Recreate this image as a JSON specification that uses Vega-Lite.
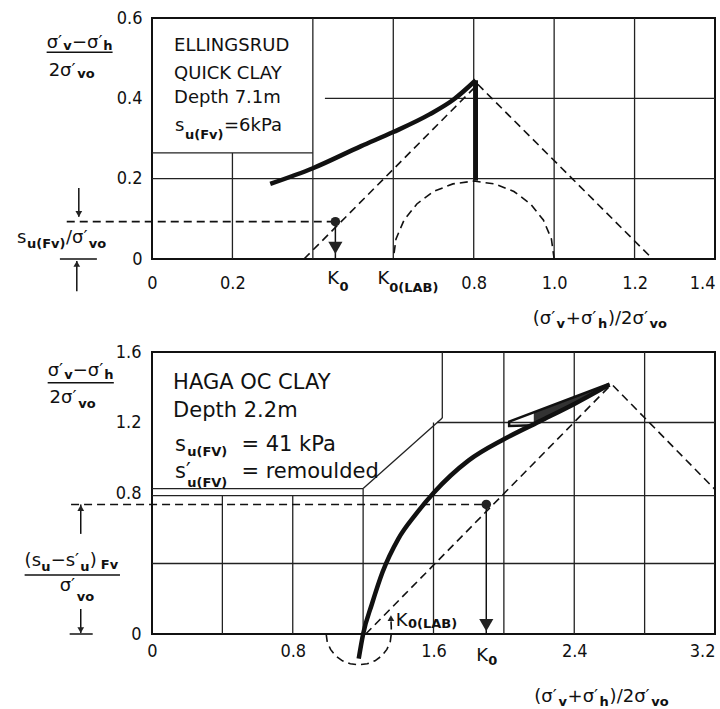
{
  "$schema": "https://vega.github.io/schema/vega-lite/v6.json",
  "padding": {"left": 15, "top": 8, "right": 0, "bottom": 0},
  "background": "white",
  "config": {
    "view": {"stroke": "#111", "strokeWidth": 2},
    "axis": {"labelFont": "DejaVu Sans Condensed", "labelColor": "#111", "labelFontSize": 18},
    "text": {"font": "DejaVu Sans", "color": "#111", "align": "left", "baseline": "alphabetic"}
  },
  "datasets": {
    "grid_top": [
      {"x": 0.2, "x2": 0.2, "y": 0, "y2": 0.264},
      {"x": 0.4, "x2": 0.4, "y": 0, "y2": 0.6},
      {"x": 0.6, "x2": 0.6, "y": 0, "y2": 0.6},
      {"x": 0.8, "x2": 0.8, "y": 0, "y2": 0.6},
      {"x": 1.0, "x2": 1.0, "y": 0, "y2": 0.6},
      {"x": 1.2, "x2": 1.2, "y": 0, "y2": 0.6},
      {"x": 0, "x2": 0.4, "y": 0.264, "y2": 0.264},
      {"x": 0, "x2": 1.4, "y": 0.2, "y2": 0.2},
      {"x": 0.43, "x2": 1.4, "y": 0.4, "y2": 0.4}
    ],
    "solid_top": [
      {"id": "curve", "order": 1, "x": 0.294, "y": 0.187},
      {"id": "curve", "order": 2, "x": 0.40, "y": 0.226},
      {"id": "curve", "order": 3, "x": 0.52, "y": 0.281},
      {"id": "curve", "order": 4, "x": 0.60, "y": 0.316},
      {"id": "curve", "order": 5, "x": 0.69, "y": 0.36},
      {"id": "curve", "order": 6, "x": 0.75, "y": 0.397},
      {"id": "curve", "order": 7, "x": 0.805, "y": 0.445}
    ],
    "stem_top": [
      {"x": 0.805, "x2": 0.805, "y": 0.445, "y2": 0.195}
    ],
    "dashed_top": [
      {"id": "k0", "order": 1, "x": 0.378, "y": 0},
      {"id": "k0", "order": 2, "x": 0.81, "y": 0.435},
      {"id": "fail", "order": 1, "x": 0.81, "y": 0.435},
      {"id": "fail", "order": 2, "x": 1.245, "y": 0},
      {"id": "su", "order": 1, "x": -0.212, "y": 0.093},
      {"id": "su", "order": 2, "x": 0.456, "y": 0.093},
      {"id": "mohr", "order": 1, "x": 1.0, "y": 0},
      {"id": "mohr", "order": 2, "x": 0.9932, "y": 0.05},
      {"id": "mohr", "order": 3, "x": 0.9732, "y": 0.097},
      {"id": "mohr", "order": 4, "x": 0.9414, "y": 0.137},
      {"id": "mohr", "order": 5, "x": 0.9, "y": 0.168},
      {"id": "mohr", "order": 6, "x": 0.8518, "y": 0.187},
      {"id": "mohr", "order": 7, "x": 0.8, "y": 0.194},
      {"id": "mohr", "order": 8, "x": 0.7482, "y": 0.187},
      {"id": "mohr", "order": 9, "x": 0.7, "y": 0.168},
      {"id": "mohr", "order": 10, "x": 0.6586, "y": 0.137},
      {"id": "mohr", "order": 11, "x": 0.6268, "y": 0.097},
      {"id": "mohr", "order": 12, "x": 0.6068, "y": 0.05},
      {"id": "mohr", "order": 13, "x": 0.6, "y": 0}
    ],
    "thin_top": [
      {"x": 0.456, "x2": 0.456, "y": 0.093, "y2": 0.0},
      {"x": -0.182, "x2": -0.182, "y": 0.177, "y2": 0.105},
      {"x": -0.187, "x2": -0.187, "y": -0.08, "y2": -0.005},
      {"x": -0.229, "x2": -0.137, "y": 0, "y2": 0},
      {"x": -0.262, "x2": -0.098, "y": 0.515, "y2": 0.515}
    ],
    "heads_top": [
      {"x": 0.456, "y": 0.028, "dir": "down", "kind": "main"},
      {"x": -0.182, "y": 0.112, "dir": "down", "kind": "note"},
      {"x": -0.187, "y": -0.012, "dir": "up", "kind": "note"}
    ],
    "dots_top": [{"x": 0.456, "y": 0.093}],
    "text_top": [
      {"t": "ELLINGSRUD", "x": 0.055, "y": 0.518, "g": "box"},
      {"t": "QUICK CLAY", "x": 0.055, "y": 0.448, "g": "box"},
      {"t": "Depth 7.1m", "x": 0.055, "y": 0.388, "g": "box"},
      {"t": "s", "x": 0.057, "y": 0.319, "g": "box"},
      {"t": "=6kPa", "x": 0.179, "y": 0.319, "g": "box"},
      {"t": "σ′", "x": -0.262, "y": 0.525, "g": "main"},
      {"t": "−σ′", "x": -0.199, "y": 0.525, "g": "main"},
      {"t": "2σ′", "x": -0.257, "y": 0.456, "g": "main"},
      {"t": "s", "x": -0.336, "y": 0.04, "g": "main"},
      {"t": "/σ′", "x": -0.214, "y": 0.04, "g": "main"},
      {"t": "K", "x": 0.436, "y": -0.062, "g": "main"},
      {"t": "K", "x": 0.561, "y": -0.062, "g": "main"},
      {"t": "(σ′", "x": 0.947, "y": -0.162, "g": "main"},
      {"t": "+σ′", "x": 1.029, "y": -0.162, "g": "main"},
      {"t": ")/2σ′", "x": 1.134, "y": -0.162, "g": "main"},
      {"t": "v", "x": -0.221, "y": 0.52, "g": "sub"},
      {"t": "h", "x": -0.121, "y": 0.52, "g": "sub"},
      {"t": "vo", "x": -0.186, "y": 0.45, "g": "sub"},
      {"t": "u(Fv)", "x": -0.311, "y": 0.027, "g": "sub"},
      {"t": "vo", "x": -0.157, "y": 0.027, "g": "sub"},
      {"t": "0", "x": 0.466, "y": -0.08, "g": "sub"},
      {"t": "0(LAB)", "x": 0.59, "y": -0.082, "g": "sub"},
      {"t": "v", "x": 1.006, "y": -0.172, "g": "sub"},
      {"t": "h", "x": 1.109, "y": -0.172, "g": "sub"},
      {"t": "vo", "x": 1.237, "y": -0.172, "g": "sub"},
      {"t": "u(Fv)", "x": 0.082, "y": 0.299, "g": "sub"}
    ],
    "grid_bot": [
      {"x": 0.4, "x2": 0.4, "y": 0, "y2": 0.785},
      {"x": 0.8, "x2": 0.8, "y": 0, "y2": 0.785},
      {"x": 1.2, "x2": 1.2, "y": 0, "y2": 0.825},
      {"x": 1.6, "x2": 1.6, "y": 0, "y2": 1.2},
      {"x": 2.0, "x2": 2.0, "y": 0, "y2": 1.6},
      {"x": 2.4, "x2": 2.4, "y": 0, "y2": 1.6},
      {"x": 2.8, "x2": 2.8, "y": 0, "y2": 1.6},
      {"x": 1.65, "x2": 1.65, "y": 1.225, "y2": 1.6},
      {"x": 1.2, "x2": 1.65, "y": 0.825, "y2": 1.225},
      {"x": 0, "x2": 3.2, "y": 0.4, "y2": 0.4},
      {"x": 0, "x2": 3.2, "y": 0.785, "y2": 0.785},
      {"x": 0, "x2": 1.2, "y": 0.825, "y2": 0.825},
      {"x": 1.62, "x2": 3.2, "y": 1.2, "y2": 1.2}
    ],
    "solid_bot": [
      {"id": "curve", "order": 1, "x": 1.175, "y": -0.14},
      {"id": "curve", "order": 2, "x": 1.2, "y": 0},
      {"id": "curve", "order": 3, "x": 1.25, "y": 0.17},
      {"id": "curve", "order": 4, "x": 1.31, "y": 0.35},
      {"id": "curve", "order": 5, "x": 1.4, "y": 0.54},
      {"id": "curve", "order": 6, "x": 1.5, "y": 0.68},
      {"id": "curve", "order": 7, "x": 1.6, "y": 0.8},
      {"id": "curve", "order": 8, "x": 1.8, "y": 0.985},
      {"id": "curve", "order": 9, "x": 2.0, "y": 1.105},
      {"id": "curve", "order": 10, "x": 2.2, "y": 1.205},
      {"id": "curve", "order": 11, "x": 2.4, "y": 1.305},
      {"id": "curve", "order": 12, "x": 2.6, "y": 1.415},
      {"id": "wedge", "order": 1, "x": 2.17, "y": 1.185},
      {"id": "wedge", "order": 2, "x": 2.03, "y": 1.18},
      {"id": "wedge", "order": 3, "x": 2.03, "y": 1.205},
      {"id": "wedge", "order": 4, "x": 2.6, "y": 1.42}
    ],
    "fill_bot": [
      {"x": 2.17, "y": 1.255, "y2": 1.19},
      {"x": 2.3, "y": 1.303, "y2": 1.255},
      {"x": 2.4, "y": 1.342, "y2": 1.305},
      {"x": 2.5, "y": 1.38, "y2": 1.36},
      {"x": 2.6, "y": 1.42, "y2": 1.415}
    ],
    "dashed_bot": [
      {"id": "k0", "order": 1, "x": 1.215, "y": 0},
      {"id": "k0", "order": 2, "x": 2.6, "y": 1.405},
      {"id": "fail", "order": 1, "x": 2.62, "y": 1.41},
      {"id": "fail", "order": 2, "x": 3.2, "y": 0.82},
      {"id": "su", "order": 1, "x": -0.46, "y": 0.735},
      {"id": "su", "order": 2, "x": 1.9, "y": 0.735},
      {"id": "mohr", "order": 1, "x": 0.99, "y": 0},
      {"id": "mohr", "order": 2, "x": 0.996, "y": -0.045},
      {"id": "mohr", "order": 3, "x": 1.015, "y": -0.0875},
      {"id": "mohr", "order": 4, "x": 1.044, "y": -0.124},
      {"id": "mohr", "order": 5, "x": 1.0825, "y": -0.152},
      {"id": "mohr", "order": 6, "x": 1.127, "y": -0.169},
      {"id": "mohr", "order": 7, "x": 1.175, "y": -0.175},
      {"id": "mohr", "order": 8, "x": 1.223, "y": -0.169},
      {"id": "mohr", "order": 9, "x": 1.2675, "y": -0.152},
      {"id": "mohr", "order": 10, "x": 1.306, "y": -0.124},
      {"id": "mohr", "order": 11, "x": 1.335, "y": -0.0875},
      {"id": "mohr", "order": 12, "x": 1.354, "y": -0.045},
      {"id": "mohr", "order": 13, "x": 1.36, "y": 0},
      {"id": "mohr", "order": 14, "x": 1.36, "y": 0.04},
      {"id": "mohr", "order": 15, "x": 1.358, "y": 0.085}
    ],
    "thin_bot": [
      {"x": 1.9, "x2": 1.9, "y": 0.735, "y2": 0.0},
      {"x": -0.405, "x2": -0.405, "y": 0.568, "y2": 0.735},
      {"x": -0.405, "x2": -0.405, "y": 0.142, "y2": 0.005},
      {"x": -0.468, "x2": -0.337, "y": 0, "y2": 0},
      {"x": -0.724, "x2": -0.182, "y": 0.335, "y2": 0.335},
      {"x": -0.593, "x2": -0.217, "y": 1.426, "y2": 1.426}
    ],
    "heads_bot": [
      {"x": 1.9, "y": 0.05, "dir": "down", "kind": "main"},
      {"x": -0.405, "y": 0.715, "dir": "up", "kind": "note"},
      {"x": -0.405, "y": 0.022, "dir": "down", "kind": "note"},
      {"x": 1.358, "y": 0.09, "dir": "up", "kind": "note"}
    ],
    "dots_bot": [{"x": 1.9, "y": 0.735}],
    "text_bot": [
      {"t": "HAGA OC CLAY", "x": 0.12, "y": 1.392, "g": "box"},
      {"t": "Depth 2.2m", "x": 0.12, "y": 1.233, "g": "box"},
      {"t": "s", "x": 0.131, "y": 1.04, "g": "box"},
      {"t": "= 41 kPa", "x": 0.508, "y": 1.04, "g": "box"},
      {"t": "s′", "x": 0.131, "y": 0.886, "g": "box"},
      {"t": "= remoulded", "x": 0.508, "y": 0.886, "g": "box"},
      {"t": "σ′", "x": -0.593, "y": 1.466, "g": "main"},
      {"t": "−σ′", "x": -0.451, "y": 1.466, "g": "main"},
      {"t": "2σ′", "x": -0.582, "y": 1.313, "g": "main"},
      {"t": "(s", "x": -0.724, "y": 0.386, "g": "main"},
      {"t": "−s′", "x": -0.576, "y": 0.386, "g": "main"},
      {"t": ")", "x": -0.354, "y": 0.386, "g": "main"},
      {"t": "σ′", "x": -0.525, "y": 0.244, "g": "main"},
      {"t": "K", "x": 1.843, "y": -0.153, "g": "main"},
      {"t": "K", "x": 1.386, "y": 0.045, "g": "main"},
      {"t": "(σ′", "x": 2.173, "y": -0.386, "g": "main"},
      {"t": "+σ′", "x": 2.362, "y": -0.386, "g": "main"},
      {"t": ")/2σ′", "x": 2.601, "y": -0.386, "g": "main"},
      {"t": "v", "x": -0.499, "y": 1.449, "g": "sub"},
      {"t": "h", "x": -0.271, "y": 1.449, "g": "sub"},
      {"t": "vo", "x": -0.419, "y": 1.284, "g": "sub"},
      {"t": "u", "x": -0.63, "y": 0.358, "g": "sub"},
      {"t": "u", "x": -0.408, "y": 0.358, "g": "sub"},
      {"t": "Fv", "x": -0.291, "y": 0.369, "g": "sub"},
      {"t": "vo", "x": -0.428, "y": 0.1875, "g": "sub"},
      {"t": "0", "x": 1.911, "y": -0.176, "g": "sub"},
      {"t": "0(LAB)", "x": 1.455, "y": 0.034, "g": "sub"},
      {"t": "v", "x": 2.31, "y": -0.409, "g": "sub"},
      {"t": "h", "x": 2.544, "y": -0.409, "g": "sub"},
      {"t": "vo", "x": 2.838, "y": -0.409, "g": "sub"},
      {"t": "u(FV)", "x": 0.2, "y": 1.011, "g": "sub"},
      {"t": "u(FV)", "x": 0.2, "y": 0.835, "g": "sub"}
    ]
  },
  "spacing": 93,
  "bounds": "flush",
  "vconcat": [
    {
      "width": 563,
      "height": 241,
      "layer": [
        {
          "data": {"name": "grid_top"},
          "mark": {"type": "rule", "color": "#222", "strokeWidth": 1.3},
          "encoding": {
            "x": {"field": "x", "type": "quantitative", "scale": {"domain": [0, 1.4], "nice": false},
              "axis": {"values": [0, 0.2, 0.8, 1.0, 1.2, 1.4], "labelExpr": "datum.value == 0 ? '0' : format(datum.value, '.1f')", "title": null, "grid": false, "ticks": false, "domain": false, "labelFlush": false, "labelOverlap": false, "labelPadding": 15, "labelAlign": {"condition": {"test": "datum.value >= 1.39", "value": "right"}, "value": "center"}}},
            "x2": {"field": "x2"},
            "y": {"field": "y", "type": "quantitative", "scale": {"domain": [0, 0.6], "nice": false},
              "axis": {"values": [0, 0.2, 0.4, 0.6], "labelExpr": "datum.value == 0 ? '0' : format(datum.value, '.1f')", "title": null, "grid": false, "ticks": false, "domain": false, "labelOverlap": false, "labelPadding": 10}},
            "y2": {"field": "y2"}
          }
        },
        {
          "data": {"name": "thin_top"},
          "mark": {"type": "rule", "color": "#111", "strokeWidth": 1.5},
          "encoding": {
            "x": {"field": "x", "type": "quantitative", "scale": {"domain": [0, 1.4], "nice": false}},
            "x2": {"field": "x2"},
            "y": {"field": "y", "type": "quantitative", "scale": {"domain": [0, 0.6], "nice": false}},
            "y2": {"field": "y2"}
          }
        },
        {
          "data": {"name": "stem_top"},
          "mark": {"type": "rule", "color": "#111", "strokeWidth": 4.5},
          "encoding": {
            "x": {"field": "x", "type": "quantitative", "scale": {"domain": [0, 1.4], "nice": false}},
            "x2": {"field": "x2"},
            "y": {"field": "y", "type": "quantitative", "scale": {"domain": [0, 0.6], "nice": false}},
            "y2": {"field": "y2"}
          }
        },
        {
          "data": {"name": "dashed_top"},
          "mark": {"type": "line", "color": "#111", "strokeWidth": 1.6, "strokeDash": [8, 5]},
          "encoding": {
            "x": {"field": "x", "type": "quantitative", "scale": {"domain": [0, 1.4], "nice": false}},
            "y": {"field": "y", "type": "quantitative", "scale": {"domain": [0, 0.6], "nice": false}},
            "detail": {"field": "id"},
            "order": {"field": "order"}
          }
        },
        {
          "data": {"name": "solid_top"},
          "mark": {"type": "line", "color": "#111", "strokeWidth": 4.5, "interpolate": "monotone"},
          "encoding": {
            "x": {"field": "x", "type": "quantitative", "scale": {"domain": [0, 1.4], "nice": false}},
            "y": {"field": "y", "type": "quantitative", "scale": {"domain": [0, 0.6], "nice": false}},
            "order": {"field": "order"}
          }
        },
        {
          "data": {"name": "heads_top"},
          "mark": {"type": "point", "filled": true, "color": "#222", "opacity": 1},
          "encoding": {
            "x": {"field": "x", "type": "quantitative", "scale": {"domain": [0, 1.4], "nice": false}},
            "y": {"field": "y", "type": "quantitative", "scale": {"domain": [0, 0.6], "nice": false}},
            "shape": {"field": "dir", "type": "nominal", "scale": {"domain": ["down", "up"], "range": ["triangle-down", "triangle-up"]}, "legend": null},
            "size": {"field": "kind", "type": "nominal", "scale": {"domain": ["main", "note"], "range": [200, 45]}, "legend": null}
          }
        },
        {
          "data": {"name": "dots_top"},
          "mark": {"type": "point", "filled": true, "color": "#222", "opacity": 1, "shape": "circle", "size": 90},
          "encoding": {
            "x": {"field": "x", "type": "quantitative", "scale": {"domain": [0, 1.4], "nice": false}},
            "y": {"field": "y", "type": "quantitative", "scale": {"domain": [0, 0.6], "nice": false}}
          }
        },
        {
          "data": {"name": "text_top"},
          "transform": [{"filter": "datum.g == 'box'"}],
          "mark": {"type": "text", "fontSize": 18},
          "encoding": {
            "x": {"field": "x", "type": "quantitative", "scale": {"domain": [0, 1.4], "nice": false}},
            "y": {"field": "y", "type": "quantitative", "scale": {"domain": [0, 0.6], "nice": false}},
            "text": {"field": "t"}
          }
        },
        {
          "data": {"name": "text_top"},
          "transform": [{"filter": "datum.g == 'main'"}],
          "mark": {"type": "text", "fontSize": 18},
          "encoding": {
            "x": {"field": "x", "type": "quantitative", "scale": {"domain": [0, 1.4], "nice": false}},
            "y": {"field": "y", "type": "quantitative", "scale": {"domain": [0, 0.6], "nice": false}},
            "text": {"field": "t"}
          }
        },
        {
          "data": {"name": "text_top"},
          "transform": [{"filter": "datum.g == 'sub'"}],
          "mark": {"type": "text", "fontSize": 13, "fontWeight": "bold"},
          "encoding": {
            "x": {"field": "x", "type": "quantitative", "scale": {"domain": [0, 1.4], "nice": false}},
            "y": {"field": "y", "type": "quantitative", "scale": {"domain": [0, 0.6], "nice": false}},
            "text": {"field": "t"}
          }
        }
      ]
    },
    {
      "width": 563,
      "height": 282,
      "layer": [
        {
          "data": {"name": "grid_bot"},
          "mark": {"type": "rule", "color": "#222", "strokeWidth": 1.3},
          "encoding": {
            "x": {"field": "x", "type": "quantitative", "scale": {"domain": [0, 3.2], "nice": false},
              "axis": {"values": [0, 0.8, 1.6, 2.4, 3.2], "labelExpr": "datum.value == 0 ? '0' : format(datum.value, '.1f')", "title": null, "grid": false, "ticks": false, "domain": false, "labelFlush": false, "labelOverlap": false, "labelPadding": 8, "labelAlign": {"condition": {"test": "datum.value >= 3.19", "value": "right"}, "value": "center"}}},
            "x2": {"field": "x2"},
            "y": {"field": "y", "type": "quantitative", "scale": {"domain": [0, 1.6], "nice": false},
              "axis": {"values": [0, 0.8, 1.2, 1.6], "labelExpr": "datum.value == 0 ? '0' : format(datum.value, '.1f')", "title": null, "grid": false, "ticks": false, "domain": false, "labelOverlap": false, "labelPadding": 11}},
            "y2": {"field": "y2"}
          }
        },
        {
          "data": {"name": "thin_bot"},
          "mark": {"type": "rule", "color": "#111", "strokeWidth": 1.5},
          "encoding": {
            "x": {"field": "x", "type": "quantitative", "scale": {"domain": [0, 3.2], "nice": false}},
            "x2": {"field": "x2"},
            "y": {"field": "y", "type": "quantitative", "scale": {"domain": [0, 1.6], "nice": false}},
            "y2": {"field": "y2"}
          }
        },
        {
          "data": {"name": "dashed_bot"},
          "mark": {"type": "line", "color": "#111", "strokeWidth": 1.6, "strokeDash": [8, 5]},
          "encoding": {
            "x": {"field": "x", "type": "quantitative", "scale": {"domain": [0, 3.2], "nice": false}},
            "y": {"field": "y", "type": "quantitative", "scale": {"domain": [0, 1.6], "nice": false}},
            "detail": {"field": "id"},
            "order": {"field": "order"}
          }
        },
        {
          "data": {"name": "fill_bot"},
          "mark": {"type": "area", "color": "#333", "opacity": 1},
          "encoding": {
            "x": {"field": "x", "type": "quantitative", "scale": {"domain": [0, 3.2], "nice": false}},
            "y": {"field": "y", "type": "quantitative", "scale": {"domain": [0, 1.6], "nice": false}},
            "y2": {"field": "y2"}
          }
        },
        {
          "data": {"name": "solid_bot"},
          "transform": [{"filter": "datum.id == 'curve'"}],
          "mark": {"type": "line", "color": "#111", "strokeWidth": 4.5, "interpolate": "monotone"},
          "encoding": {
            "x": {"field": "x", "type": "quantitative", "scale": {"domain": [0, 3.2], "nice": false}},
            "y": {"field": "y", "type": "quantitative", "scale": {"domain": [0, 1.6], "nice": false}},
            "order": {"field": "order"}
          }
        },
        {
          "data": {"name": "solid_bot"},
          "transform": [{"filter": "datum.id == 'wedge'"}],
          "mark": {"type": "line", "color": "#111", "strokeWidth": 2.5},
          "encoding": {
            "x": {"field": "x", "type": "quantitative", "scale": {"domain": [0, 3.2], "nice": false}},
            "y": {"field": "y", "type": "quantitative", "scale": {"domain": [0, 1.6], "nice": false}},
            "order": {"field": "order"}
          }
        },
        {
          "data": {"name": "heads_bot"},
          "mark": {"type": "point", "filled": true, "color": "#222", "opacity": 1},
          "encoding": {
            "x": {"field": "x", "type": "quantitative", "scale": {"domain": [0, 3.2], "nice": false}},
            "y": {"field": "y", "type": "quantitative", "scale": {"domain": [0, 1.6], "nice": false}},
            "shape": {"field": "dir", "type": "nominal", "scale": {"domain": ["down", "up"], "range": ["triangle-down", "triangle-up"]}, "legend": null},
            "size": {"field": "kind", "type": "nominal", "scale": {"domain": ["main", "note"], "range": [200, 45]}, "legend": null}
          }
        },
        {
          "data": {"name": "dots_bot"},
          "mark": {"type": "point", "filled": true, "color": "#222", "opacity": 1, "shape": "circle", "size": 90},
          "encoding": {
            "x": {"field": "x", "type": "quantitative", "scale": {"domain": [0, 3.2], "nice": false}},
            "y": {"field": "y", "type": "quantitative", "scale": {"domain": [0, 1.6], "nice": false}}
          }
        },
        {
          "data": {"name": "text_bot"},
          "transform": [{"filter": "datum.g == 'box'"}],
          "mark": {"type": "text", "fontSize": 21},
          "encoding": {
            "x": {"field": "x", "type": "quantitative", "scale": {"domain": [0, 3.2], "nice": false}},
            "y": {"field": "y", "type": "quantitative", "scale": {"domain": [0, 1.6], "nice": false}},
            "text": {"field": "t"}
          }
        },
        {
          "data": {"name": "text_bot"},
          "transform": [{"filter": "datum.g == 'main'"}],
          "mark": {"type": "text", "fontSize": 18},
          "encoding": {
            "x": {"field": "x", "type": "quantitative", "scale": {"domain": [0, 3.2], "nice": false}},
            "y": {"field": "y", "type": "quantitative", "scale": {"domain": [0, 1.6], "nice": false}},
            "text": {"field": "t"}
          }
        },
        {
          "data": {"name": "text_bot"},
          "transform": [{"filter": "datum.g == 'sub'"}],
          "mark": {"type": "text", "fontSize": 13, "fontWeight": "bold"},
          "encoding": {
            "x": {"field": "x", "type": "quantitative", "scale": {"domain": [0, 3.2], "nice": false}},
            "y": {"field": "y", "type": "quantitative", "scale": {"domain": [0, 1.6], "nice": false}},
            "text": {"field": "t"}
          }
        }
      ]
    }
  ]
}
